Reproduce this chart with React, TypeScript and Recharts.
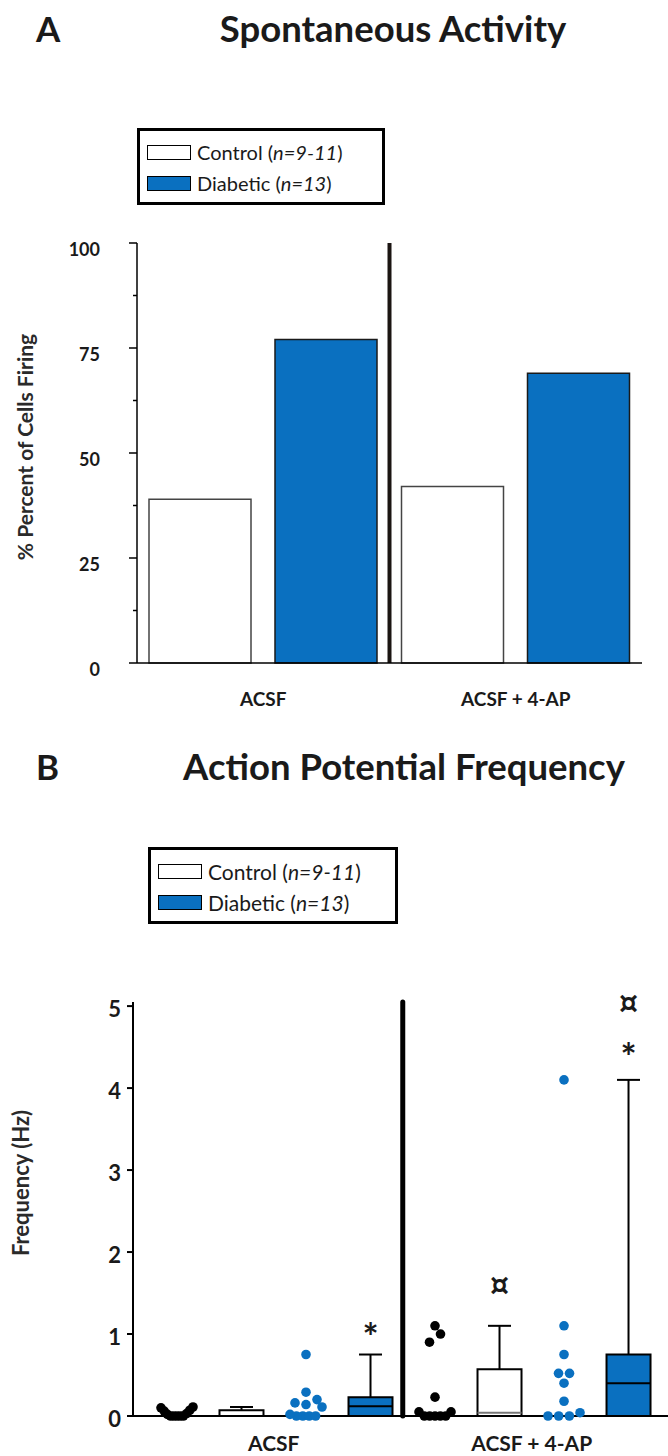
import React from "react";
import { Bar, BarChart, ComposedChart, ReferenceArea, ReferenceLine, Scatter, XAxis, YAxis } from "recharts";

const FONT = "Lato, 'Open Sans', sans-serif";
const INK = "#1a1a1a";
const BLUE = "#0a70c0";

// panel A: % of cells firing
const conditions = ["ACSF", "ACSF + 4-AP"];
const pctControl = [39, 42];
const pctDiabetic = [77, 69];
const pctTicks = [0, 12.5, 25, 37.5, 50, 62.5, 75, 87.5, 100];

// panel B: firing frequency (Hz) of individual cells
const freqTicks = [0, 1, 2, 3, 4, 5];
const ctrlAcsfHz = [0, 0, 0, 0, 0, 0.02, 0.03, 0.06, 0.07, 0.1, 0.11];
const diabAcsfHz = [0, 0, 0, 0, 0.02, 0.11, 0.14, 0.16, 0.2, 0.29, 0.75];
const ctrl4apHz = [0, 0, 0, 0, 0, 0.05, 0.05, 0.23, 0.9, 1.0, 1.1];
const diab4apHz = [0, 0, 0, 0.04, 0.18, 0.4, 0.52, 0.52, 0.75, 1.1, 4.1];

// box summaries: control ACSF, diabetic ACSF, control 4-AP, diabetic 4-AP
const boxMedian = [0, 0.12, 0.04, 0.4];
const boxQ3 = [0.07, 0.23, 0.57, 0.75];
const boxMax = [0.11, 0.75, 1.1, 4.1];
const boxIsDiabetic = [false, true, false, true];

// significance marks above boxes (box index, height in Hz, symbol)
const markBox = [1, 2, 3, 3];
const markHz = [1.12, 1.61, 4.54, 5.05];
const markText = ["*", "¤", "*", "¤"];

const legendLabels = ["Control", "Diabetic"];
const legendN = ["9-11", "13"];
const legendFills = ["#fff", BLUE];

// layout of panel B
const B_W = 668;
const B_H = 496;
const B_TOP = 42;
const B_XAXIS_H = 40;
const B_AXIS_W = 133;
const X_DOMAIN: [number, number] = [-0.682, 7.612];
const PX_PER_SLOT = (B_W - B_AXIS_W) / (X_DOMAIN[1] - X_DOMAIN[0]);
const PX_PER_HZ = (B_H - B_TOP - B_XAXIS_H) / 5;

const DOT_R = 4.8;
const DOT_STEP = 11;   // horizontal step between dots sharing a row
const MAX_SPREAD = 32; // widest a row may get

// prism-style scatter: values close together share a row and fan out from the centre
function swarm(values: number[], slot: number) {
  const rowHz = (2 * DOT_R) / PX_PER_HZ;
  const sorted = [...values].sort((a, b) => a - b);
  const rows: number[][] = [];
  sorted.forEach(v => {
    const last = rows[rows.length - 1];
    if (last && v - last[0] < rowHz) last.push(v);
    else rows.push([v]);
  });
  const out: { x: number; y: number }[] = [];
  rows.forEach(row => {
    const n = row.length;
    const step = n > 1 ? Math.min(DOT_STEP, MAX_SPREAD / (n - 1)) : 0;
    row.forEach((v, k) => {
      let pos: number;
      if (n % 2 === 1) pos = k === 0 ? 0 : Math.ceil(k / 2) * (k % 2 === 1 ? -1 : 1);
      else pos = (Math.floor(k / 2) + 0.5) * (k % 2 === 0 ? -1 : 1);
      out.push({ x: slot + (pos * step) / PX_PER_SLOT, y: v });
    });
  });
  return out;
}

const pctData = conditions.map((c, i) => ({ condition: c, control: pctControl[i], diabetic: pctDiabetic[i] }));

const scatterSlots = [0, 2, 4, 6];
const boxSlots = [1, 3, 5, 7];
const groups = [
  { pts: swarm(ctrlAcsfHz, scatterSlots[0]), fill: "#000" },
  { pts: swarm(diabAcsfHz, scatterSlots[1]), fill: BLUE },
  { pts: swarm(ctrl4apHz, scatterSlots[2]), fill: "#000" },
  { pts: swarm(diab4apHz, scatterSlots[3]), fill: BLUE }
];
const groupCenters = [(boxSlots[1] + scatterSlots[0]) / 2, (boxSlots[3] + scatterSlots[2]) / 2];
const divider = (boxSlots[1] + scatterSlots[2]) / 2;
const markData = markBox.map((b, i) => ({ x: boxSlots[b], y: markHz[i], text: markText[i] }));

const BOX_HALF = 22 / PX_PER_SLOT;
const CAP_HALF = 11.5 / PX_PER_SLOT;

function PctTick(props: any) {
  const { x, y, payload } = props;
  const axisX = x + 8 + 29;
  const major = payload.value % 25 === 0;
  return (
    <g>
      <line x1={axisX - (major ? 8 : 4)} x2={axisX} y1={y} y2={y} stroke="#000" strokeWidth={1.5} />
      {major && (
        <text x={x} y={y} dy={13} textAnchor="end" fill={INK} fontSize={18} fontWeight={700} fontFamily={FONT}>
          {payload.value}
        </text>
      )}
    </g>
  );
}

function AxisTitle({ vb, text, offsetX, offsetY, size }: any) {
  const cx = vb.x + offsetX;
  const cy = vb.y + vb.height / 2 + offsetY;
  return (
    <text x={cx} y={cy} transform={`rotate(-90, ${cx}, ${cy})`} textAnchor="middle" dominantBaseline="middle"
      fill="#2a2a2a" fontSize={size} fontWeight={700} fontFamily={FONT}>
      {text}
    </text>
  );
}

function MarkShape(p: any) {
  const star = p.payload.text === "*";
  return (
    <text x={p.cx} y={p.cy} dy={star ? 12 : 0} textAnchor="middle" dominantBaseline="central" fill={INK}
      fontSize={star ? 38 : 30} fontWeight={700} fontFamily={star ? FONT : "'DejaVu Sans', sans-serif"}>
      {p.payload.text}
    </text>
  );
}

function KeyBox({ left, top, width, size }: { left: number; top: number; width: number; size: number }) {
  return (
    <div style={{ position: "absolute", left, top, width, height: 77, border: "3px solid #000", boxSizing: "border-box", background: "#fff" }}>
      {legendLabels.map((label, i) => (
        <div key={label} style={{ position: "absolute", left: 7, top: 8 + i * 31, height: 26, display: "flex", alignItems: "center", whiteSpace: "nowrap" }}>
          <span style={{ display: "inline-block", width: 44, height: 15, background: legendFills[i], border: "1px solid #000", boxSizing: "border-box", marginRight: 6 }} />
          <span style={{ fontSize: size, color: INK }}>
            {label} (<i>n={legendN[i]}</i>)
          </span>
        </div>
      ))}
    </div>
  );
}

function Heading({ letter, title, top, center }: { letter: string; title: string; top: number; center: number }) {
  return (
    <>
      <div style={{ position: "absolute", left: 36, top, fontSize: 35, fontWeight: 700, lineHeight: "40px", color: INK }}>{letter}</div>
      <div style={{ position: "absolute", left: center, top, transform: "translateX(-50%)", whiteSpace: "nowrap", fontSize: 36.5, fontWeight: 700, lineHeight: "40px", color: INK }}>
        {title}
      </div>
    </>
  );
}

export default function App() {
  return (
    <div style={{ position: "absolute", left: 0, top: 0, width: 668, height: 1456, background: "#fff", fontFamily: FONT, color: INK }}>
      <Heading letter="A" title="Spontaneous Activity" top={8} center={393} />
      <KeyBox left={137} top={128} width={248} size={20} />

      <div style={{ position: "absolute", left: 0, top: 200 }}>
        <BarChart width={668} height={520} data={pctData} margin={{ top: 43, right: 26, bottom: 0, left: 0 }} barSize={102} barGap={24}>
          <XAxis dataKey="condition" height={57} axisLine={{ stroke: "#000", strokeWidth: 1.5 }} tickLine={false} tickSize={0} tickMargin={30}
            tick={{ fill: INK, fontSize: 19, fontWeight: 700, fontFamily: FONT }} />
          <YAxis domain={[0, 100]} ticks={pctTicks} interval={0} width={137} axisLine={{ stroke: "#000", strokeWidth: 1.5 }}
            tickLine={false} tickSize={8} tickMargin={29} tick={<PctTick />}
            label={{ content: (p: any) => <AxisTitle vb={p.viewBox} text="% Percent of Cells Firing" offsetX={28} offsetY={-6} size={21} /> }} />
          <ReferenceLine x={conditions[1]} position="start" stroke="#1b1512" strokeWidth={4} />
          <Bar dataKey="control" fill="#fff" stroke="#444" strokeWidth={1.5} isAnimationActive={false} />
          <Bar dataKey="diabetic" fill={BLUE} stroke="#1a1a1a" strokeWidth={1.5} isAnimationActive={false} />
        </BarChart>
      </div>

      <Heading letter="B" title="Action Potential Frequency" top={746} center={404} />
      <KeyBox left={148} top={847} width={250} size={21} />

      <div style={{ position: "absolute", left: 0, top: 960 }}>
        <ComposedChart width={B_W} height={B_H} margin={{ top: B_TOP, right: 0, bottom: 0, left: 0 }}>
          <XAxis type="number" dataKey="x" domain={X_DOMAIN} allowDataOverflow ticks={groupCenters} interval={0} height={B_XAXIS_H}
            tickFormatter={(_v: number, i: number) => conditions[i]} axisLine={{ stroke: "#000", strokeWidth: 2 }}
            tickLine={false} tickSize={0} tickMargin={20} tick={{ fill: INK, fontSize: 21, fontWeight: 700, fontFamily: FONT }} />
          <YAxis type="number" dataKey="y" domain={[0, 5]} ticks={freqTicks} interval={0} width={B_AXIS_W}
            axisLine={{ stroke: "#000", strokeWidth: 2 }} tickLine={{ stroke: "#000", strokeWidth: 2 }} tickSize={6} tickMargin={6}
            tick={{ fill: INK, fontSize: 22, fontWeight: 700, fontFamily: FONT, dy: 3 }}
            label={{ content: (p: any) => <AxisTitle vb={p.viewBox} text="Frequency (Hz)" offsetX={23} offsetY={-26} size={22} /> }} />
          <ReferenceLine x={divider} stroke="#000" strokeWidth={5} strokeLinecap="round" />
          {boxSlots.map((s, i) => (
            <ReferenceLine key={`w${i}`} segment={[{ x: s, y: boxQ3[i] }, { x: s, y: boxMax[i] }]} stroke="#000" strokeWidth={2} />
          ))}
          {boxSlots.map((s, i) => (
            <ReferenceLine key={`c${i}`} segment={[{ x: s - CAP_HALF, y: boxMax[i] }, { x: s + CAP_HALF, y: boxMax[i] }]} stroke="#000" strokeWidth={2} />
          ))}
          {boxSlots.map((s, i) => (
            <ReferenceArea key={`b${i}`} x1={s - BOX_HALF} x2={s + BOX_HALF} y1={0} y2={boxQ3[i]} fill={boxIsDiabetic[i] ? BLUE : "#fff"}
              fillOpacity={1} stroke="#000" strokeWidth={2} ifOverflow="visible" />
          ))}
          {boxSlots.map((s, i) => (
            <ReferenceLine key={`m${i}`} segment={[{ x: s - BOX_HALF, y: boxMedian[i] }, { x: s + BOX_HALF, y: boxMedian[i] }]}
              stroke={boxIsDiabetic[i] ? "#000" : "#777"} strokeWidth={2} />
          ))}
          {groups.map((g, i) => (
            <Scatter key={`s${i}`} data={g.pts} isAnimationActive={false}
              shape={(p: any) => <circle cx={p.cx} cy={p.cy} r={DOT_R} fill={g.fill} />} />
          ))}
          <Scatter data={markData} isAnimationActive={false} shape={MarkShape} />
        </ComposedChart>
      </div>
    </div>
  );
}
